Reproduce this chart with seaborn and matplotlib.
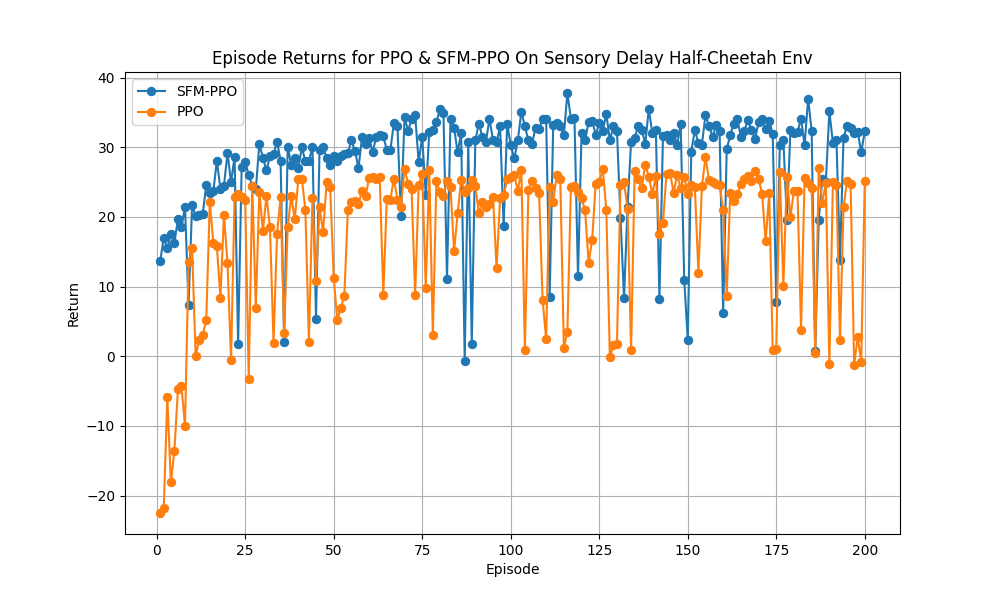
import matplotlib
matplotlib.use('Agg')
import matplotlib.pyplot as plt
import numpy as np
import pandas as pd
import seaborn as sns

episodes = list(range(1, 201))

sfm_ppo = [
    13.7, 17.0, 15.5, 17.5, 16.3, 19.7, 18.5, 21.5, 7.4, 21.7,
    20.2, 20.3, 20.4, 24.6, 23.5, 23.7, 28.1, 24.0, 24.5, 29.2,
    25.0, 28.6, 1.8, 27.2, 27.9, 26.0, 24.5, 24.0, 30.5, 28.5,
    26.7, 28.7, 29.0, 30.8, 28.1, 2.0, 30.1, 27.5, 28.5, 27.0,
    30.0, 28.0, 28.0, 30.1, 5.4, 29.6, 30.0, 28.5, 27.5, 28.8,
    28.0, 28.8, 29.0, 29.2, 31.0, 29.5, 27.0, 31.5, 30.5, 31.3,
    29.3, 31.5, 31.8, 31.6, 29.6, 29.6, 33.5, 33.0, 20.1, 34.3,
    32.4, 34.0, 34.6, 27.9, 31.5, 23.1, 32.2, 32.5, 33.6, 35.5,
    35.0, 11.1, 34.1, 32.8, 29.3, 32.0, -0.7, 30.7, 1.8, 31.0,
    33.4, 31.5, 30.8, 34.1, 31.0, 30.7, 33.0, 18.7, 33.4, 30.3,
    28.4, 31.0, 35.1, 33.0, 31.0, 30.5, 32.8, 32.6, 34.1, 34.1,
    8.5, 33.2, 33.5, 33.0, 31.7, 37.8, 34.1, 34.2, 11.5, 32.0,
    31.0, 33.7, 33.8, 31.8, 33.5, 32.4, 34.8, 31.0, 33.0, 32.4,
    19.9, 8.4, 21.5, 30.8, 31.3, 33.1, 32.5, 30.5, 35.5, 32.0,
    32.5, 8.2, 31.6, 31.7, 31.0, 32.1, 30.3, 33.4, 11.0, 2.4,
    29.4, 32.5, 30.6, 30.4, 34.6, 33.1, 31.5, 33.2, 32.3, 6.2,
    29.7, 31.8, 33.4, 34.1, 31.5, 32.4, 33.9, 32.5, 31.2, 33.6,
    34.0, 32.6, 33.8, 31.9, 7.8, 30.4, 31.1, 19.5, 32.5, 32.0,
    32.2, 34.1, 30.3, 37.0, 32.3, 0.7, 19.6, 25.5, 25.0, 35.2,
    30.6, 31.1, 13.8, 31.4, 33.0, 32.8, 32.0, 32.2, 29.3, 32.3,
]

ppo = [
    -22.5, -21.8, -5.8, -18.1, -13.6, -4.7, -4.3, -10.0, 13.5, 15.6,
    0.1, 2.3, 3.1, 5.2, 22.2, 16.3, 15.8, 8.4, 20.3, 13.4,
    -0.5, 22.8, 23.3, 22.9, 22.5, -3.2, 24.5, 7.0, 23.6, 18.0,
    23.0, 18.5, 1.9, 17.6, 22.8, 3.3, 18.5, 23.0, 19.7, 25.4,
    25.5, 21.0, 2.0, 22.7, 10.8, 21.4, 17.8, 25.0, 24.3, 11.3,
    5.2, 7.0, 8.6, 21.0, 22.2, 22.3, 21.8, 23.8, 23.0, 25.6,
    25.8, 25.4, 25.8, 8.8, 22.6, 22.5, 25.5, 22.5, 21.5, 26.9,
    24.8, 24.0, 8.8, 24.6, 26.2, 9.8, 26.8, 3.0, 25.2, 23.6,
    23.0, 25.2, 24.3, 15.1, 20.5, 25.3, 23.6, 24.1, 25.3, 24.4,
    20.5, 22.2, 21.5, 21.9, 22.8, 12.7, 22.7, 23.1, 25.4, 25.8,
    26.0, 23.8, 26.7, 0.9, 23.9, 25.2, 24.2, 23.5, 8.1, 2.5,
    24.3, 22.2, 26.0, 25.5, 1.2, 3.5, 24.3, 24.5, 23.6, 22.7,
    21.0, 13.4, 16.7, 24.8, 25.0, 26.9, 21.0, -0.1, 1.6, 1.7,
    24.6, 25.0, 21.2, 0.9, 26.6, 25.4, 24.1, 27.5, 25.8, 23.3,
    25.9, 17.6, 19.2, 26.2, 26.3, 23.5, 26.0, 24.2, 25.8, 23.3,
    24.6, 24.3, 12.0, 24.4, 28.6, 25.3, 25.0, 24.8, 24.6, 21.0,
    8.6, 23.5, 22.3, 23.3, 24.8, 25.5, 25.9, 25.2, 26.6, 25.5,
    23.3, 16.5, 23.4, 0.9, 1.0, 26.4, 10.1, 25.8, 20.0, 23.8,
    23.7, 3.8, 25.6, 24.9, 24.2, 0.4, 27.0, 22.0, 24.9, -1.1,
    25.0, 24.6, 2.3, 21.4, 25.2, 24.8, -1.2, 2.7, -0.8, 25.2,
]

df = pd.DataFrame({'Episode': episodes, 'SFM-PPO': sfm_ppo, 'PPO': ppo})

fig, ax = plt.subplots(figsize=(10, 6), dpi=100)
sns.lineplot(data=df, x='Episode', y='SFM-PPO', ax=ax, marker='o', markersize=6,
             color='C0', markeredgecolor='C0', label='SFM-PPO')
sns.lineplot(data=df, x='Episode', y='PPO', ax=ax, marker='o', markersize=6,
             color='C1', markeredgecolor='C1', label='PPO')

ax.set_title('Episode Returns for PPO & SFM-PPO On Sensory Delay Half-Cheetah Env')
ax.set_xlabel('Episode')
ax.set_ylabel('Return')
ax.grid(True)
ax.legend(loc='upper left')

fig.savefig('out.png')
